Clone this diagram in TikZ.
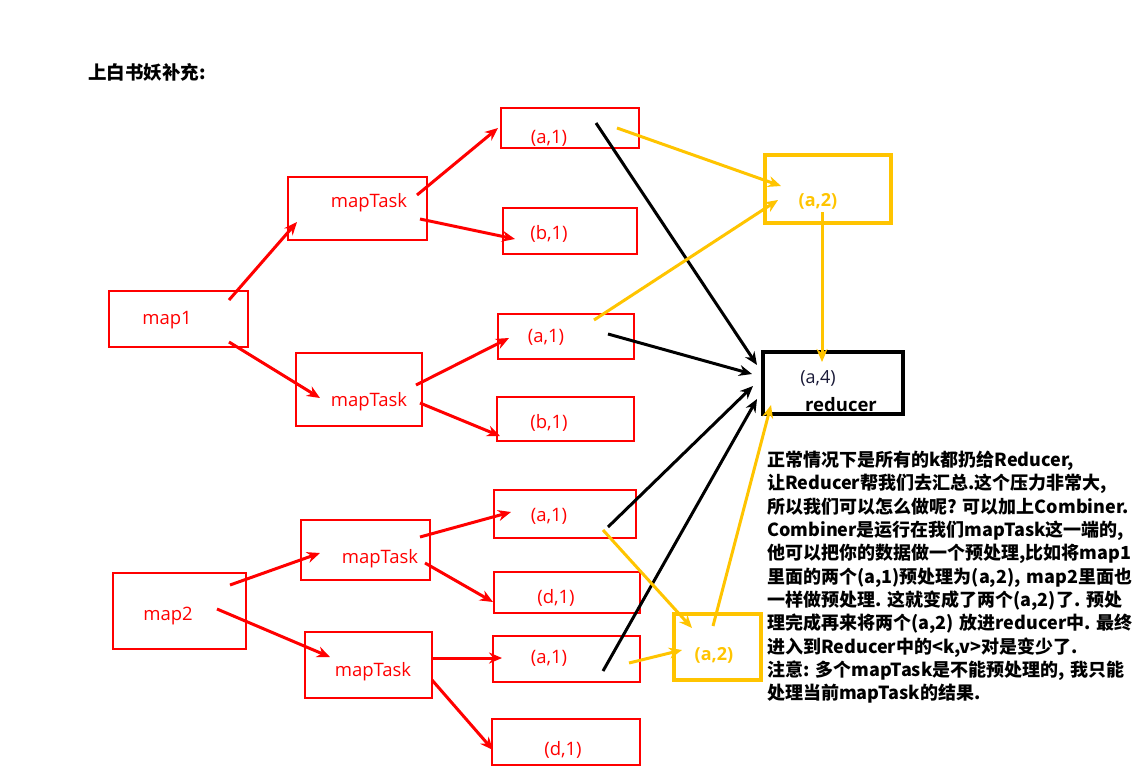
\documentclass[tikz,border=0pt]{standalone}
\usepackage{fontspec}
\setmainfont{Open Sans}
\newfontfamily\cjk{Noto Sans CJK SC}
\usetikzlibrary{arrows.meta,calc}
\definecolor{mapred}{RGB}{255,0,0}
\definecolor{gold}{RGB}{255,196,0}
\definecolor{inkblue}{RGB}{25,25,55}
\tikzset{
  box/.style={draw=mapred,line width=2.2pt,inner sep=0pt},
  goldbox/.style={draw=gold,line width=4pt,inner sep=0pt},
  redbox/.style={draw=black,line width=3.5pt,inner sep=0pt},
  lbl/.style={text=mapred,inner sep=0pt,font=\fontsize{18.5}{20}\selectfont},
  redarrow/.style={draw=mapred,line width=3pt,-{Stealth[length=13pt,width=11pt]}},
  blackarrow/.style={draw=black,line width=3pt,-{Stealth[length=13pt,width=11pt]}},
  goldarrow/.style={draw=gold,line width=3pt,-{Stealth[length=13pt,width=11pt]}}
}
\begin{document}
\begin{tikzpicture}[x=1pt,y=-1pt]
    \useasboundingbox (0,0) rectangle (1139,772);

    \node[anchor=west,inner sep=0pt,font=\cjk\bfseries\fontsize{18.5}{22}\selectfont] (title) at (88,72) {上白书妖补充:};

    % map side
    \node[box,minimum width=139,minimum height=56] (m1) at (178.5,319) {};
    \node[box,minimum width=139,minimum height=63] (mt1) at (357.5,208.5) {};
    \node[box,minimum width=126,minimum height=73] (mt2) at (359,389.5) {};
    \node[box,minimum width=138,minimum height=40] (a1) at (570,128) {};
    \node[box,minimum width=134,minimum height=46] (b1) at (570,231) {};
    \node[box,minimum width=136,minimum height=45] (a2) at (566,336.5) {};
    \node[box,minimum width=137,minimum height=44] (b2) at (565.5,419) {};
    \node[box,minimum width=133,minimum height=76] (m2) at (179.5,611) {};
    \node[box,minimum width=129,minimum height=60] (mt3) at (365.5,550) {};
    \node[box,minimum width=127,minimum height=66] (mt4) at (368.5,665) {};
    \node[box,minimum width=142,minimum height=48] (a3) at (565,514) {};
    \node[box,minimum width=146,minimum height=41] (d1) at (567,592.5) {};
    \node[box,minimum width=147,minimum height=46] (a4) at (566.5,659) {};
    \node[box,minimum width=148,minimum height=46] (d2) at (566,742) {};

    \node[lbl] (m1-t) at (167,320) {map1};
    \node[lbl] (mt1-t) at (369,203) {mapTask};
    \node[lbl] (mt2-t) at (369,402) {mapTask};
    \node[lbl] (a1-t) at (549,138) {(a,1)};
    \node[lbl] (b1-t) at (549,234) {(b,1)};
    \node[lbl] (a2-t) at (546,337) {(a,1)};
    \node[lbl] (b2-t) at (549,423) {(b,1)};
    \node[lbl] (m2-t) at (168,616) {map2};
    \node[lbl] (mt3-t) at (380,559) {mapTask};
    \node[lbl] (mt4-t) at (373,672) {mapTask};
    \node[lbl] (a3-t) at (549,516) {(a,1)};
    \node[lbl] (d1-t) at (556,598) {(d,1)};
    \node[lbl] (a4-t) at (549,658) {(a,1)};
    \node[lbl] (d2-t) at (563,750) {(d,1)};

    % combiner and reducer
    \node[goldbox,minimum width=126,minimum height=68] (y1) at (828,189) {};
    \node[goldbox,minimum width=87,minimum height=66] (y2) at (717.5,647) {};
    \node[redbox,minimum width=140,minimum height=62] (red) at (833,383) {};
    \node[text=gold,inner sep=0pt,font=\bfseries\fontsize{18}{20}\selectfont] (y1-t) at (818,201) {(a,2)};
    \node[text=gold,inner sep=0pt,font=\bfseries\fontsize{18}{20}\selectfont] (y2-t) at (714,655) {(a,2)};
    \node[text=inkblue,inner sep=0pt,font=\fontsize{18}{20}\selectfont] (red-v) at (818,378) {(a,4)};
    \node[inner sep=0pt,font=\bfseries\fontsize{18.5}{20}\selectfont] (red-t) at (841,405) {reducer};

    \draw[redarrow] ($(m1)+(50.5,-19)$) -- ($(mt1)+(-60.5,13.5)$);
    \draw[redarrow] ($(m1)+(50.5,23)$) -- ($(mt2)+(-39,8.5)$);
    \draw[redarrow] ($(mt1)+(59.5,-13.5)$) -- ($(a1)+(-72,0)$);
    \draw[redarrow] ($(mt1)+(62.5,10.5)$) -- ($(b1)+(-55,8)$);
    \draw[redarrow] ($(mt2)+(57,-4.5)$) -- ($(a2)+(-57,1.5)$);
    \draw[redarrow] ($(mt2)+(61,13.5)$) -- ($(b2)+(-65.5,17)$);
    \draw[redarrow] ($(m2)+(50.5,-26)$) -- ($(mt3)+(-45.5,3)$);
    \draw[redarrow] ($(m2)+(37.5,-2)$) -- ($(mt4)+(-38.5,-8)$);
    \draw[redarrow] ($(mt3)+(54.5,-13)$) -- ($(a3)+(-54,-2)$);
    \draw[redarrow] ($(mt3)+(59.5,13)$) -- ($(d1)+(-74,9.5)$);
    \draw[redarrow] ($(mt4)+(63.5,-7)$) -- ($(a4)+(-64.5,-1)$);
    \draw[redarrow] ($(mt4)+(63.5,15)$) -- ($(d2)+(-73,8)$);

    \draw[blackarrow] ($(a1)+(26,-5)$) -- ($(red)+(-76,-18)$);
    \draw[blackarrow] ($(a2)+(42,-2.5)$) -- ($(red)+(-81,-9)$);
    \draw[blackarrow] ($(a3)+(43,13)$) -- ($(red)+(-80,3)$);
    \draw[blackarrow] ($(a4)+(36.5,12)$) -- ($(red)+(-76,16)$);

    \draw[goldarrow] ($(a1)+(47,0)$) -- ($(y1)+(-47,-3)$);
    \draw[goldarrow] ($(a2)+(28,-16.5)$) -- ($(y1)+(-50,11)$);
    \draw[goldarrow] ($(y1)+(-6,23)$) -- ($(red)+(-11,-21)$);
    \draw[goldarrow] ($(a3)+(38,16)$) -- ($(y2)+(-25.5,-19)$);
    \draw[goldarrow] ($(a4)+(62.5,4)$) -- ($(y2)+(-35.5,3)$);
    \draw[goldarrow] ($(y2)+(-4.5,-21)$) -- ($(red)+(-62,22)$);

    % note
    \node[anchor=north west,inner sep=0pt,text width=390pt,align=left,
          font=\cjk\bfseries\fontsize{18}{23.3}\selectfont] (note) at (767,451)
    {正常情况下是所有的k都扔给Reducer,\\
     让Reducer帮我们去汇总.这个压力非常大,\\
     所以我们可以怎么做呢?~可以加上Combiner.\\
     Combiner是运行在我们mapTask这一端的,\\
     他可以把你的数据做一个预处理,比如将map1\\
     里面的两个(a,1)预处理为(a,2),~map2里面也\\
     一样做预处理.~这就变成了两个(a,2)了.~预处\\
     理完成再来将两个(a,2)~放进reducer中.~最终\\
     进入到Reducer中的<k,v>对是变少了.\\
     注意:~多个mapTask是不能预处理的,~我只能\\
     处理当前mapTask的结果.};
\end{tikzpicture}
\end{document}
